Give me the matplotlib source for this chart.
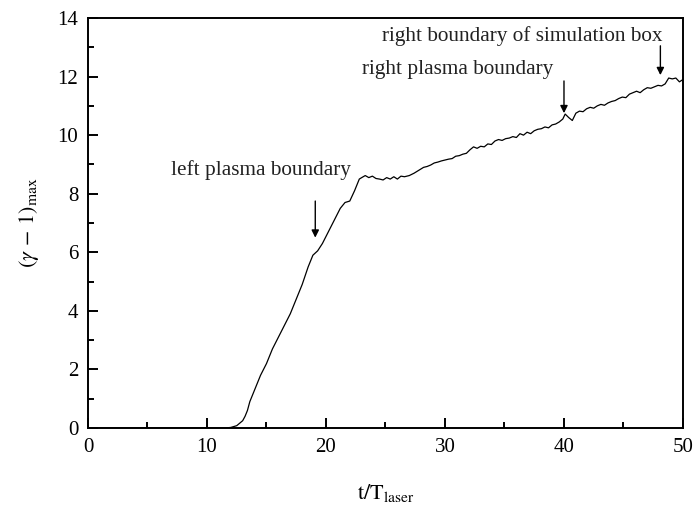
import numpy as np
import matplotlib.pyplot as plt
from matplotlib.ticker import MultipleLocator

plt.rcParams['font.family'] = ['Liberation Serif', 'DejaVu Serif']
plt.rcParams['mathtext.fontset'] = 'stix'

# curve (t/T_laser, (gamma-1)_max)
t = [0.0, 5.0, 10.0, 11.5, 12.0, 12.5, 13.0, 13.2, 13.4, 13.6, 14.0, 14.5, 15.0,
     15.5, 16.0, 16.5, 17.0, 17.5, 18.0, 18.5, 18.9, 19.3, 19.7, 20.2, 20.7,
     21.2, 21.6, 22.0, 22.4, 22.8, 23.0, 23.3, 23.6, 23.9, 24.2, 24.5, 24.8,
     25.1, 25.4, 25.7, 26.0, 26.3, 26.6, 27.0, 27.4, 27.8, 28.2, 28.5, 28.8,
     29.1, 29.4, 29.7, 30.0, 30.3, 30.6, 30.9, 31.2, 31.5, 31.8, 32.1, 32.4,
     32.7, 33.0, 33.3, 33.6, 33.9, 34.2, 34.5, 34.8, 35.1, 35.4, 35.7, 36.0,
     36.3, 36.6, 36.9, 37.2, 37.5, 37.8, 38.1, 38.4, 38.7, 39.0, 39.3, 39.6,
     39.9, 40.1, 40.4, 40.7, 41.0, 41.3, 41.6, 41.9, 42.2, 42.5, 42.8, 43.1,
     43.4, 43.7, 44.0, 44.3, 44.6, 44.9, 45.2, 45.5, 45.8, 46.1, 46.4, 46.7,
     47.0, 47.3, 47.6, 47.9, 48.2, 48.5, 48.8, 49.1, 49.4, 49.7, 50.0]
g = [0.0, 0.0, 0.0, 0.0, 0.02, 0.08, 0.25, 0.4, 0.6, 0.9, 1.3, 1.8, 2.2,
     2.7, 3.1, 3.5, 3.9, 4.4, 4.9, 5.5, 5.9, 6.05, 6.3, 6.7, 7.1,
     7.5, 7.7, 7.75, 8.1, 8.5, 8.55, 8.62, 8.55, 8.6, 8.52, 8.5, 8.47,
     8.55, 8.5, 8.58, 8.5, 8.6, 8.58, 8.62, 8.7, 8.8, 8.9, 8.93, 8.98,
     9.05, 9.08, 9.12, 9.15, 9.18, 9.2, 9.28, 9.3, 9.35, 9.38, 9.5, 9.6,
     9.55, 9.62, 9.6, 9.7, 9.68, 9.8, 9.85, 9.82, 9.88, 9.9, 9.95, 9.92,
     10.05, 10.0, 10.1, 10.05, 10.15, 10.2, 10.22, 10.28, 10.25, 10.35, 10.38, 10.45,
     10.55, 10.72, 10.6, 10.5, 10.75, 10.82, 10.8, 10.9, 10.95, 10.92, 11.0, 11.05,
     11.02, 11.1, 11.15, 11.18, 11.25, 11.3, 11.28, 11.4, 11.45, 11.5, 11.45, 11.55,
     11.62, 11.6, 11.65, 11.7, 11.68, 11.75, 11.95, 11.92, 11.95, 11.82, 11.9]

# annotations: (text, text x, text y, arrow x, arrow top, arrow tip)
notes = [
    ('left plasma boundary', 14.5, 8.8, 19.1, 7.75, 6.5),
    ('right plasma boundary', 31.1, 12.25, 40.0, 11.85, 10.75),
    ('right boundary of simulation box', 36.5, 13.38, 48.1, 13.05, 12.05),
]

fig = plt.figure(figsize=(6.96, 5.23), dpi=100)
ax = fig.add_axes([0.1264, 0.1816, 0.8549, 0.7840])

ax.plot(t, g, color='black', lw=0.9)

for txt, tx, ty, ax_x, y0, y1 in notes:
    ax.text(tx, ty, txt, ha='center', va='center', fontsize=15.3,
            color='#222222', clip_on=False)
    ax.annotate('', xy=(ax_x, y1), xytext=(ax_x, y0),
                arrowprops=dict(arrowstyle='-|>', color='black', lw=1.0,
                                mutation_scale=11, shrinkA=0, shrinkB=0))

ax.set_xlim(0, 50)
ax.set_ylim(0, 14)
ax.xaxis.set_major_locator(MultipleLocator(10))
ax.xaxis.set_minor_locator(MultipleLocator(5))
ax.yaxis.set_major_locator(MultipleLocator(2))
ax.yaxis.set_minor_locator(MultipleLocator(1))
ax.tick_params(which='both', direction='in', top=False, right=False,
               labelsize=15, width=1.4, colors='black')
ax.tick_params(which='major', length=7, pad=7)
ax.tick_params(which='minor', length=4)
for s in ax.spines.values():
    s.set_linewidth(1.4)

ax.set_xlabel(r'$\mathrm{t/T_{laser}}$', fontsize=16, labelpad=18)
ax.set_ylabel(r'$(\gamma\,-\,1)_{\mathrm{max}}$', fontsize=16, labelpad=12)

fig.savefig('out.png', dpi=100)
